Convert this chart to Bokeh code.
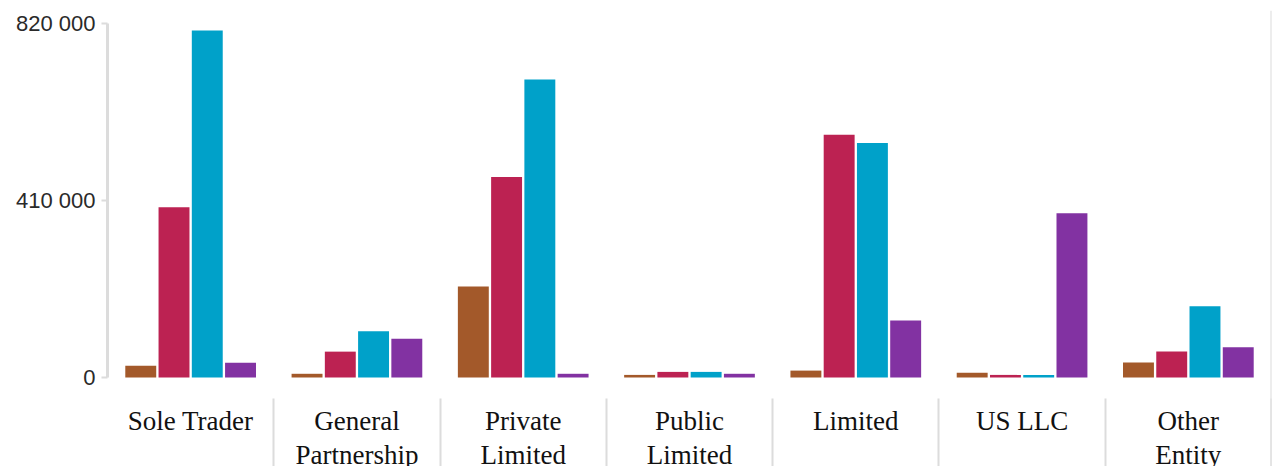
from bokeh.plotting import figure
from bokeh.models import (ColumnDataSource, FactorRange, Range1d, LinearAxis,
                          FixedTicker, Span, LabelSet)
from bokeh.transform import dodge
from bokeh.embed import file_html
from bokeh.resources import INLINE

# ---- data ----
categories = ["Sole Trader", "General Partnership", "Private Limited",
              "Public Limited", "Limited", "US LLC", "Other Entity"]
label_line_1 = ["Sole Trader", "General", "Private", "Public", "Limited",
                "US LLC", "Other"]
label_line_2 = ["", "Partnership", "Limited", "Limited", "", "", "Entity"]
series_1 = [27000, 8600, 211000, 6000, 16000, 11000, 35000]
series_2 = [395000, 60000, 465000, 13000, 563000, 6000, 60500]
series_3 = [805000, 107000, 691000, 13000, 544000, 6000, 165000]
series_4 = [34000, 90000, 8600, 8600, 132000, 381000, 70000]
y_ticks = [0, 410000, 820000]
y_tick_labels = ["0", "410 000", "820 000"]

colors = ["#A3592A", "#BC2252", "#00A1C9", "#8232A2"]

src = ColumnDataSource(dict(cat=categories, s1=series_1, s2=series_2,
                            s3=series_3, s4=series_4, line1=label_line_1,
                            line2=label_line_2, base=[0] * len(categories)))

FONT = "Liberation Sans"

# frame reaches the bottom of the canvas; the value axis is bounded to 0..820 000
p = figure(width=1277, height=466, output_backend="svg", toolbar_location=None,
           x_range=FactorRange(*categories, range_padding=0),
           y_range=Range1d(-206450, 851300), x_axis_type=None,
           min_border_left=107, min_border_right=6, min_border_top=10,
           min_border_bottom=0)
p.outline_line_color = None
p.xgrid.visible = False
p.ygrid.visible = False

offsets = [-0.3, -0.1, 0.1, 0.3]
for i, (col, off) in enumerate(zip(colors, offsets)):
    p.vbar(x=dodge("cat", off, range=p.x_range), top="s%d" % (i + 1), bottom=0,
           width=0.186, source=src, fill_color=col, line_color=None)

# y axis
ya = p.yaxis[0]
ya.ticker = FixedTicker(ticks=y_ticks)
ya.major_label_overrides = {t: l for t, l in zip(y_ticks, y_tick_labels)}
ya.bounds = (0, 820000)
ya.axis_line_color = "#dcdcdc"
ya.axis_line_width = 3
ya.major_tick_line_color = "#dcdcdc"
ya.major_tick_line_width = 2
ya.major_tick_out = 6
ya.major_tick_in = 0
ya.minor_tick_line_color = None
ya.major_label_standoff = 6
ya.major_label_text_font = FONT
ya.major_label_text_font_size = "22px"
ya.major_label_text_color = "#2a2a2a"

# separators between categories (synthetic coordinates of the factor range)
bounds = [i + 1 for i in range(len(categories))]
sep = LinearAxis(fixed_location=0, ticker=FixedTicker(ticks=bounds))
sep.axis_line_color = None
sep.major_tick_line_color = "#dcdcdc"
sep.major_tick_line_width = 2
sep.major_tick_in = -21
sep.major_tick_out = 120
sep.minor_tick_line_color = None
sep.major_label_text_font_size = "0px"
sep.major_label_text_alpha = 0
p.add_layout(sep, "below")

# category labels (two lines)
for col, off in (("line1", -29), ("line2", -63)):
    p.add_layout(LabelSet(x="cat", y="base", text=col, source=src,
                          y_offset=off, text_align="center", text_baseline="top",
                          text_font=FONT, text_font_size="27px",
                          text_color="#111111"))

p.add_layout(Span(location=len(categories), dimension="height",
                  line_color="#dcdcdc", line_width=2))

open("out.html", "w").write(file_html(p, INLINE))
